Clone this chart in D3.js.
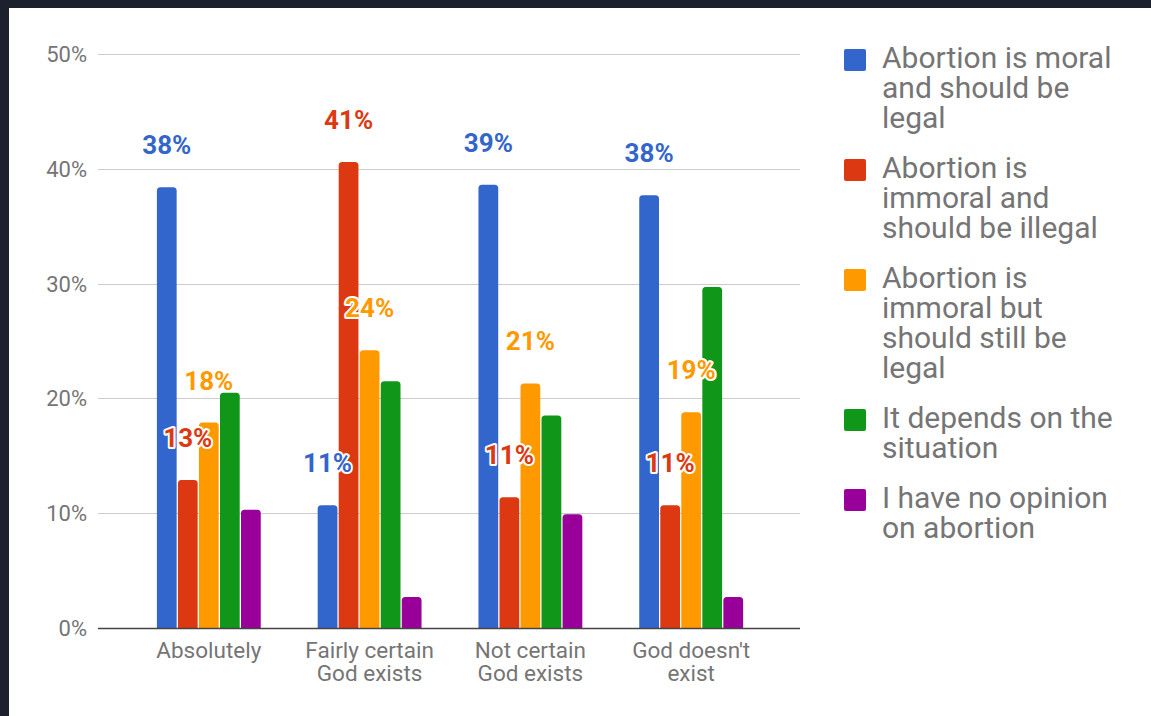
<!DOCTYPE html>
<html>
<head>
<meta charset="utf-8">
<script src="https://cdn.jsdelivr.net/npm/d3@7"></script>
<style>
  html, body { margin: 0; padding: 0; background: #1c212d; }
  svg { display: block; }
</style>
</head>
<body>
<svg id="chart" width="1151" height="716"></svg>
<script>
// ---- data ----
const categories = ["Absolutely", "Fairly certain\nGod exists", "Not certain\nGod exists", "God doesn't\nexist"];
const seriesNames = [
  "Abortion is moral and should be legal",
  "Abortion is immoral and should be illegal",
  "Abortion is immoral but should still be legal",
  "It depends on the situation",
  "I have no opinion on abortion"
];
const legendLines = [
  ["Abortion is moral", "and should be", "legal"],
  ["Abortion is", "immoral and", "should be illegal"],
  ["Abortion is", "immoral but", "should still be", "legal"],
  ["It depends on the", "situation"],
  ["I have no opinion", "on abortion"]
];
const moralLegal     = [38.4, 10.7, 38.6, 37.7];
const immoralIllegal = [12.9, 40.6, 11.4, 10.7];
const immoralLegal   = [17.9, 24.2, 21.3, 18.8];
const dependsSit     = [20.5, 21.5, 18.5, 29.7];
const noOpinion      = [10.3, 2.7, 9.9, 2.7];
const labeledSeries  = [true, true, true, false, false];
const yTicks = [0, 10, 20, 30, 40, 50];
const colors = ["#3366cc", "#dc3912", "#ff9900", "#109618", "#990099"];

const seriesValues = [moralLegal, immoralIllegal, immoralLegal, dependsSit, noOpinion];

// ---- layout ----
const svg = d3.select("#chart");
const font = "Roboto, 'Liberation Sans', Arial, sans-serif";
const gray = "#757575";

svg.append("rect").attr("x", 9).attr("y", 8).attr("width", 1151 - 9).attr("height", 716 - 8).attr("fill", "#ffffff");

const plotL = 98, plotR = 800;
const y = d3.scaleLinear().domain([0, 50]).range([628, 54]);
const x0 = d3.scaleBand().domain(categories).range([plotL + 1, plotR + 1]).paddingInner(0.354).paddingOuter(0.36);
const x1 = d3.scaleBand().domain(d3.range(seriesNames.length)).range([0, x0.bandwidth()]).paddingInner(0.06);

// gridlines
svg.append("g").selectAll("line").data(yTicks.filter(t => t > 0)).join("line")
  .attr("x1", plotL).attr("x2", plotR)
  .attr("y1", d => Math.round(y(d)) + 0.5).attr("y2", d => Math.round(y(d)) + 0.5)
  .attr("stroke", "#cccccc").attr("stroke-width", 1);

// y tick labels
svg.append("g").selectAll("text").data(yTicks).join("text")
  .attr("x", 87).attr("y", d => y(d)).attr("dy", "0.36em")
  .attr("text-anchor", "end")
  .attr("font-family", font).attr("font-size", 22).attr("fill", gray)
  .text(d => d + "%");

// bars
function barPath(x, yTop, w, yBase, r) {
  const h = yBase - yTop;
  r = Math.min(r, h, w / 2);
  return `M${x},${yBase}V${yTop + r}Q${x},${yTop} ${x + r},${yTop}H${x + w - r}Q${x + w},${yTop} ${x + w},${yTop + r}V${yBase}Z`;
}

const barData = [];
categories.forEach((c, ci) => {
  seriesValues.forEach((vals, si) => {
    barData.push({ c, si, v: vals[ci] });
  });
});

svg.append("g").selectAll("path").data(barData).join("path")
  .attr("d", d => barPath(x0(d.c) + x1(d.si), y(d.v), x1.bandwidth(), y(0), 3.5))
  .attr("fill", d => colors[d.si]);

// baseline axis
svg.append("line").attr("x1", plotL).attr("x2", plotR)
  .attr("y1", Math.round(y(0)) + 0.5).attr("y2", Math.round(y(0)) + 0.5)
  .attr("stroke", "#444").attr("stroke-width", 1.3);

// value labels
svg.append("g").selectAll("text").data(barData.filter(d => labeledSeries[d.si])).join("text")
  .attr("x", d => x0(d.c) + x1(d.si) + x1.bandwidth() / 2)
  .attr("y", d => y(d.v) - 33)
  .attr("text-anchor", "middle")
  .attr("font-family", font).attr("font-weight", "bold").attr("font-size", 26)
  .attr("fill", d => colors[d.si])
  .attr("stroke", "#ffffff").attr("stroke-width", 4).attr("stroke-linejoin", "round")
  .attr("paint-order", "stroke")
  .text(d => Math.round(d.v) + "%");

// category labels
const catG = svg.append("g").selectAll("text").data(categories).join("text")
  .attr("x", d => x0(d) + x0.bandwidth() / 2)
  .attr("y", 658)
  .attr("text-anchor", "middle")
  .attr("font-family", font).attr("font-size", 22.5).attr("fill", gray);
catG.each(function(d) {
  const t = d3.select(this);
  d.split("\n").forEach((line, i) => {
    t.append("tspan").attr("x", x0(d) + x0.bandwidth() / 2).attr("dy", i === 0 ? 0 : 23).text(line);
  });
});

// legend
const legendX = 844, textX = 882;
let baseY = 68;
const lineH = 30, itemGap = 50;
legendLines.forEach((lines, i) => {
  const g = svg.append("g");
  g.append("rect").attr("x", legendX).attr("y", baseY - 19).attr("width", 22).attr("height", 22)
    .attr("rx", 2).attr("fill", colors[i]);
  const t = g.append("text").attr("font-family", font).attr("font-size", 30).attr("fill", gray);
  lines.forEach((ln, li) => {
    t.append("tspan").attr("x", textX).attr("y", baseY + li * lineH).text(ln);
  });
  baseY += (lines.length - 1) * lineH + itemGap;
});
</script>
</body>
</html>
